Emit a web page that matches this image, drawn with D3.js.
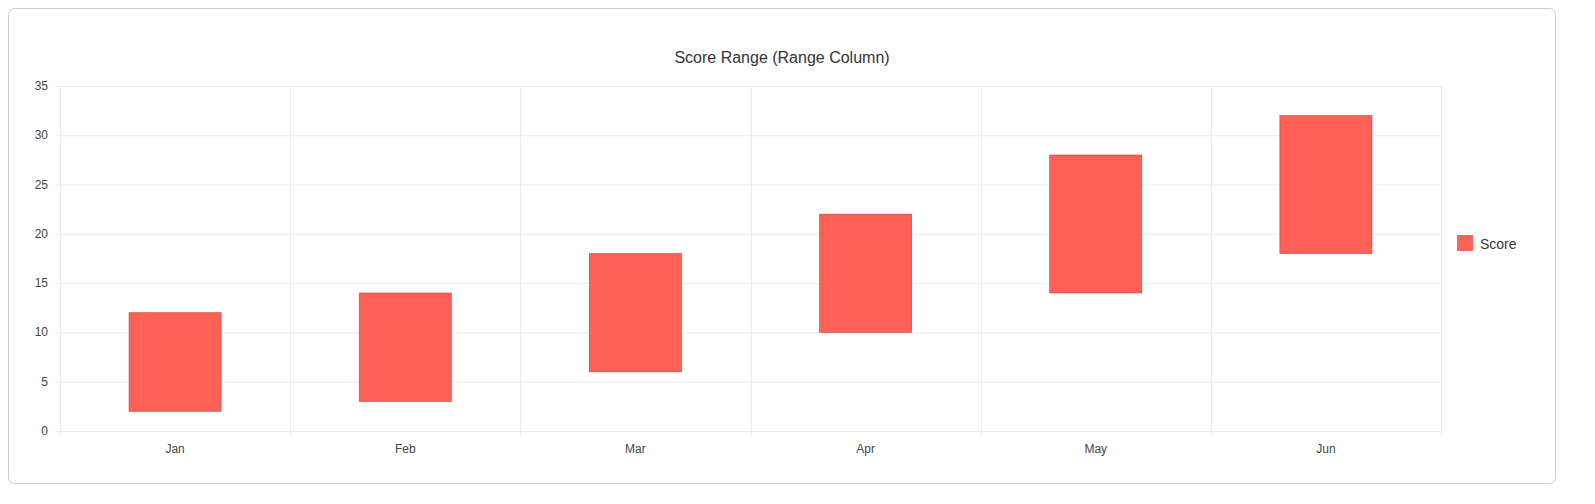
<!DOCTYPE html>
<html><head><meta charset="utf-8">
<script src="https://cdn.jsdelivr.net/npm/d3@7"></script>
<style>body{margin:0;background:#fff;font-family:"Liberation Sans",Arial,sans-serif}</style>
</head><body><svg id="c" width="1595" height="504"></svg>
<script>
const categories=["Jan","Feb","Mar","Apr","May","Jun"];
const lows=[2,3,6,10,14,18];
const highs=[12,14,18,22,28,32];
const yTicks=[0,5,10,15,20,25,30,35];
const seriesName="Score";
const color="#ff6157";

const svg=d3.select("#c");
svg.append("rect").attr("x",8.5).attr("y",8.5).attr("width",1547).attr("height",475).attr("rx",6)
  .attr("fill","#fff").attr("stroke","#ccc");
svg.append("text").attr("x",782).attr("y",63).attr("text-anchor","middle").attr("font-size",16).attr("fill","#333").text("Score Range (Range Column)");
const L=60,R=1441,T=86,B=431;
const x=d3.scaleBand().domain(categories).range([L,R]);
const y=d3.scaleLinear().domain([0,35]).range([B,T]);
const g=svg.append("g");
yTicks.forEach(t=>{
  g.append("line").attr("x1",L-5).attr("x2",R).attr("y1",y(t)+.5).attr("y2",y(t)+.5).attr("stroke","#ebebeb");
  g.append("text").attr("x",L-12).attr("y",y(t)+4).attr("text-anchor","end").attr("font-size",12).attr("fill","#444").text(t);
});
[...categories.map(c=>x(c)),R].forEach(v=>{
  g.append("line").attr("x1",Math.round(v)+.5).attr("x2",Math.round(v)+.5).attr("y1",T).attr("y2",B+5).attr("stroke","#ebebeb");
});
categories.forEach((c,i)=>{
  g.append("text").attr("x",x(c)+x.bandwidth()/2).attr("y",B+22).attr("text-anchor","middle").attr("font-size",12).attr("fill","#444").text(c);
  const bw=x.bandwidth()*0.4;
  g.append("rect").attr("x",x(c)+(x.bandwidth()-bw)/2).attr("y",y(highs[i])).attr("width",bw)
   .attr("height",y(lows[i])-y(highs[i])).attr("fill",color).attr("stroke","#c9403a").attr("stroke-width",0.6);
});
svg.append("rect").attr("x",1457).attr("y",235).attr("width",16).attr("height",16).attr("fill",color);
svg.append("text").attr("x",1480).attr("y",249).attr("font-size",14).attr("fill","#333").text(seriesName);
</script></body></html>
